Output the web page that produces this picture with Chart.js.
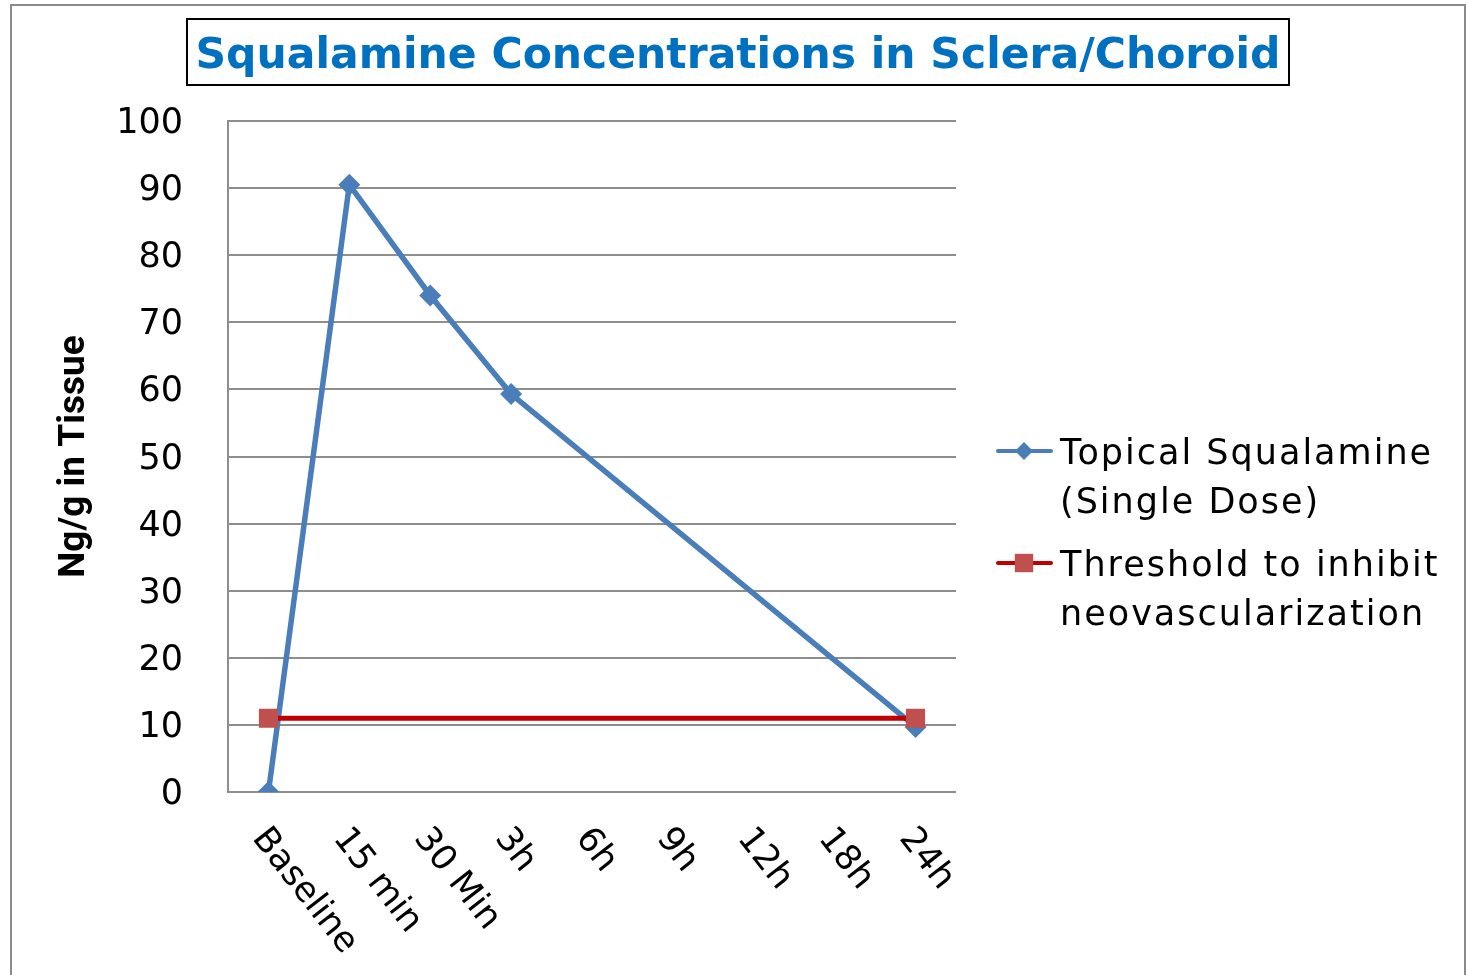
<!DOCTYPE html>
<html>
<head>
<meta charset="utf-8">
<title>Squalamine Concentrations in Sclera/Choroid</title>
<script src="https://cdn.jsdelivr.net/npm/chart.js@4.4.1/dist/chart.umd.min.js"></script>
<style>
  html, body { margin: 0; padding: 0; background: #fff; }
  #wrap { width: 1468px; height: 975px; }
</style>
</head>
<body>
<div id="wrap"><canvas id="chart" width="1468" height="975"></canvas></div>
<script>
// values
const categories = ["Baseline", "15 min", "30 Min", "3h", "6h", "9h", "12h", "18h", "24h"];
const topicalValues = [0, 90.5, 74, 59.3, null, null, null, null, 9.7];
const thresholdValues = [11, null, null, null, null, null, null, null, 11];
const yMin = 0;
const yMax = 100;
const yStep = 10;

const chartTitle = "Squalamine Concentrations in Sclera/Choroid";
const yTitle = "Ng/g in Tissue";
const topicalLabel = ["Topical Squalamine", "(Single Dose)"];
const thresholdLabel = ["Threshold to inhibit", "neovascularization"];

const BLUE = "#4A7EBB";
const DARK_RED = "#C00000";
const RED_MARK = "#C0504D";
const GRID = "#8e8e8e";

function marker(ctx, style, x, y, r, color) {
  ctx.save();
  ctx.fillStyle = color;
  ctx.beginPath();
  if (style === "rectRot") {
    ctx.moveTo(x - r, y);
    ctx.lineTo(x, y - r);
    ctx.lineTo(x + r, y);
    ctx.lineTo(x, y + r);
    ctx.closePath();
  } else {
    const s = r * Math.SQRT1_2;
    ctx.rect(x - s, y - s, 2 * s, 2 * s);
  }
  ctx.fill();
  ctx.restore();
}

const decor = {
  id: "decor",
  beforeDraw(chart) {
    const ctx = chart.ctx;
    ctx.save();
    ctx.fillStyle = "#fff";
    ctx.fillRect(0, 0, chart.width, chart.height);
    // outer frame
    ctx.strokeStyle = "#8c8c8c";
    ctx.lineWidth = 2;
    ctx.beginPath();
    ctx.moveTo(11, chart.height + 5);
    ctx.lineTo(11, 5);
    ctx.lineTo(1465, 5);
    ctx.lineTo(1465, chart.height + 5);
    ctx.stroke();
    ctx.restore();
  },
  afterDraw(chart) {
    const ctx = chart.ctx;
    const xs = chart.scales.x;
    const area = chart.chartArea;
    ctx.save();

    // title in a box
    ctx.strokeStyle = "#000";
    ctx.lineWidth = 2;
    ctx.strokeRect(187, 19, 1102, 66);
    ctx.fillStyle = "#0070C0";
    ctx.font = 'bold 42.5px "DejaVu Sans"';
    ctx.textAlign = "center";
    ctx.textBaseline = "alphabetic";
    ctx.fillText(chartTitle, 738, 68);

    // rotated category labels
    ctx.fillStyle = "#000";
    ctx.font = '35px "DejaVu Sans"';
    ctx.textAlign = "left";
    ctx.textBaseline = "top";
    categories.forEach((c, i) => {
      const px = xs.getPixelForValue(i);
      ctx.save();
      ctx.translate(px + 4, area.bottom + 30);
      ctx.rotate(52 * Math.PI / 180);
      ctx.fillText(c, 0, 0);
      ctx.restore();
    });

    // legend
    const entries = [
      { ds: chart.data.datasets[0], y: 451 },
      { ds: chart.data.datasets[1], y: 563 }
    ];
    ctx.font = '35px "DejaVu Sans"';
    ctx.textBaseline = "alphabetic";
    entries.forEach(e => {
      ctx.strokeStyle = e.ds.borderColor;
      ctx.lineWidth = 4;
      ctx.lineCap = "round";
      ctx.beginPath();
      ctx.moveTo(998, e.y);
      ctx.lineTo(1051, e.y);
      ctx.stroke();
      const r = e.ds.pointStyle === "rectRot" ? 9 : 13;
      marker(ctx, e.ds.pointStyle, 1024, e.y, r, e.ds.pointBackgroundColor);
      ctx.fillStyle = "#000";
      ctx.letterSpacing = "2px";
      e.ds.label.forEach((line, k) => {
        ctx.fillText(line, 1060, e.y + 13 + k * 49);
      });
      ctx.letterSpacing = "0px";
    });

    ctx.restore();
  }
};

new Chart(document.getElementById("chart").getContext("2d"), {
  type: "line",
  data: {
    labels: categories,
    datasets: [
      {
        label: topicalLabel,
        data: topicalValues,
        borderColor: BLUE,
        backgroundColor: BLUE,
        pointBackgroundColor: BLUE,
        pointBorderColor: BLUE,
        pointStyle: "rectRot",
        pointRadius: 11,
        pointBorderWidth: 0,
        borderWidth: 5.5,
        spanGaps: true,
        tension: 0,
        fill: false,
        order: 1
      },
      {
        label: thresholdLabel,
        data: thresholdValues,
        borderColor: DARK_RED,
        backgroundColor: RED_MARK,
        pointBackgroundColor: RED_MARK,
        pointBorderColor: RED_MARK,
        pointStyle: "rect",
        pointRadius: 13.5,
        pointBorderWidth: 0,
        borderWidth: 5,
        spanGaps: true,
        tension: 0,
        fill: false,
        order: 0
      }
    ]
  },
  options: {
    responsive: false,
    animation: false,
    devicePixelRatio: 1,
    layout: { padding: { top: 121, right: 512, bottom: 0, left: 0 } },
    plugins: {
      legend: { display: false },
      title: { display: false },
      tooltip: { enabled: false }
    },
    scales: {
      x: {
        offset: true,
        grid: { display: false },
        border: { display: false },
        ticks: { display: false },
        afterFit(s) { s.height = 183; }
      },
      y: {
        min: yMin,
        max: yMax,
        ticks: {
          stepSize: yStep,
          padding: 45,
          labelOffset: 3,
          color: "#000",
          font: { family: '"DejaVu Sans"', size: 35 }
        },
        grid: { color: GRID, lineWidth: 2, drawTicks: false },
        border: { display: true, color: GRID, width: 2 },
        title: {
          display: true,
          text: yTitle,
          color: "#000",
          font: { family: '"Liberation Sans Narrow", "Roboto", sans-serif', size: 37, weight: "bold" },
          padding: { top: 53, bottom: 0 }
        },
        afterFit(s) { s.width = 228; }
      }
    }
  },
  plugins: [decor]
});
</script>
</body>
</html>
